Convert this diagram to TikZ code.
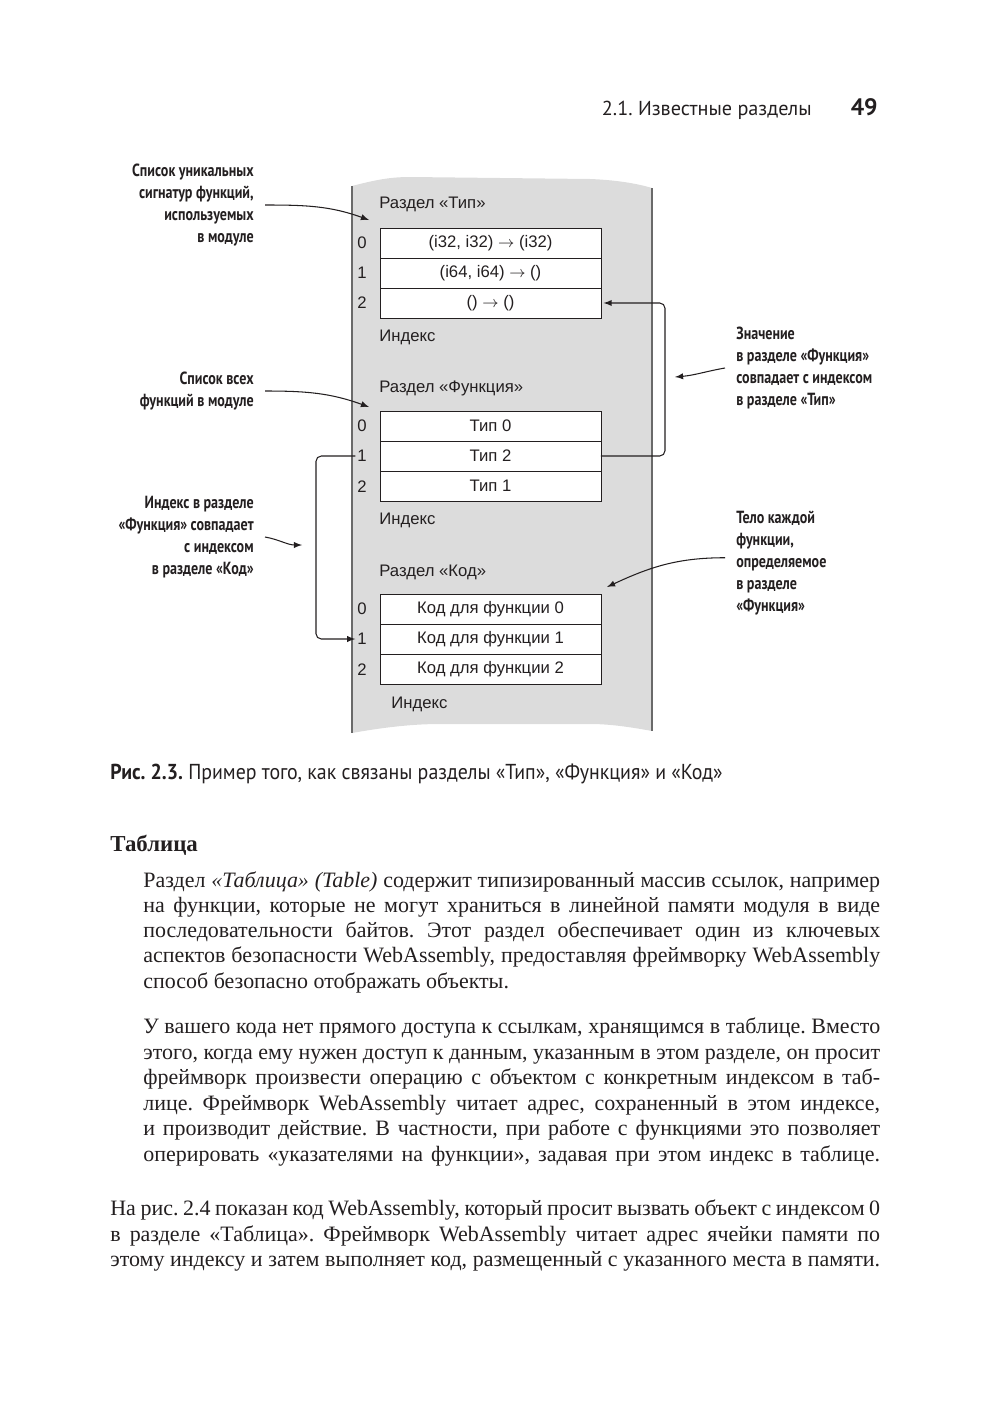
\documentclass[tikz,border=0pt]{standalone}
\usepackage{fontspec}
\setmainfont{Liberation Serif}
\newfontfamily\headfont{PT Sans}
\newfontfamily\boxfont{Liberation Sans}
\newfontfamily\callfont[FakeStretch=0.8]{PT Sans}
\newfontfamily\capfont[FakeStretch=0.92]{PT Sans}
\usetikzlibrary{positioning}
\frenchspacing

\definecolor{bandgray}{HTML}{DCDCDC}
\definecolor{edgegray}{HTML}{6A6A6A}
\definecolor{ink}{HTML}{231F20}

% one justified line of body text
\newcommand{\bodyline}[2]{\makebox[#1][s]{#2}}

\tikzset{
    cell/.style={draw=ink, fill=white, line width=0.5pt, minimum width=4.42cm,
        minimum height=0.6cm, inner sep=0pt, outer sep=0pt, text=ink,
        font=\boxfont\fontsize{9.5}{11}\selectfont},
    idx/.style={inner sep=1pt, text=ink, font=\boxfont\fontsize{9.5}{11}\selectfont},
    seclabel/.style={anchor=west, inner sep=0pt, text=ink,
        font=\boxfont\fontsize{9.5}{11}\selectfont},
    callout/.style={inner xsep=0.22cm, inner ysep=0pt, text=ink,
        font=\callfont\bfseries\fontsize{10}{12.5}\selectfont},
    callarrow/.style={-latex, line width=0.6pt, draw=ink},
    linkline/.style={-latex, line width=0.6pt, draw=ink, rounded corners=3pt},
    body/.style={anchor=base west, inner sep=0pt, text=ink,
        font=\fontsize{12.5}{14}\selectfont}
}

\begin{document}
\begin{tikzpicture}[x=0.02cm, y=-0.02cm]
\useasboundingbox (0,0) rectangle (1000,1413);

% running head
\node[anchor=base east, inner sep=0pt, text=ink, font=\headfont\fontsize{11.5}{13}\selectfont]
    (runhead) at (812,115) {2.1. Известные разделы};
\node[anchor=base east, inner sep=0pt, text=ink, font=\headfont\bfseries\fontsize{13.5}{15}\selectfont]
    (pagenum) at (878,115) {49};

% module band
\fill[bandgray] (352,186) .. controls (375,180) and (390,177) .. (410,177)
    -- (590,179) .. controls (615,180) and (635,183) .. (652,188)
    -- (652,731) .. controls (630,727) and (610,724) .. (590,724)
    -- (440,724) .. controls (410,724) and (380,728) .. (352,733) -- cycle;
\draw[edgegray, line width=0.9pt] (352,186) -- (352,733);
\draw[edgegray, line width=0.9pt] (652,188) -- (652,731);

% type section
\node[seclabel] (secT) at (379,204) {Раздел «Тип»};
\node[cell] (t0) at (490.5,243) {(i32, i32) $\rightarrow$ (i32)};
\node[cell, below=0pt of t0] (t1) {(i64, i64) $\rightarrow$ ()};
\node[cell, below=0pt of t1] (t2) {() $\rightarrow$ ()};
\node[idx] (ti0) at (362,243) {0};
\node[idx] (ti1) at (362,273) {1};
\node[idx] (ti2) at (362,303) {2};
\node[seclabel] (indT) at (379,337) {Индекс};

% function section
\node[seclabel] (secF) at (379,388) {Раздел «Функция»};
\node[cell] (f0) at (490.5,426) {Тип 0};
\node[cell, below=0pt of f0] (f1) {Тип 2};
\node[cell, below=0pt of f1] (f2) {Тип 1};
\node[idx] (fi0) at (362,426) {0};
\node[idx] (fi1) at (362,456) {1};
\node[idx] (fi2) at (362,487) {2};
\node[seclabel] (indF) at (379,520) {Индекс};

% code section
\node[seclabel] (secK) at (379,572) {Раздел «Код»};
\node[cell] (k0) at (490.5,609) {Код для функции 0};
\node[cell, below=0pt of k0] (k1) {Код для функции 1};
\node[cell, below=0pt of k1] (k2) {Код для функции 2};
\node[idx] (ki0) at (362,609) {0};
\node[idx] (ki1) at (362,639) {1};
\node[idx] (ki2) at (362,670) {2};
\node[seclabel] (indK) at (391,704) {Индекс};

% links between sections
\coordinate (rbend) at (665,0);
\coordinate (lbend) at (316,0);
\draw[linkline, shorten >=1.5pt] (f1.east) -- (f1.east -| rbend) |- (t2.east);
\draw[linkline] (fi1.west) -- (fi1.west -| lbend) |- (ki1.west);

% callouts
\node[callout, align=right, anchor=east] (c1) at (265,205)
    {Список уникальных\\сигнатур функций,\\используемых\\в модуле};
\node[callout, align=right, anchor=east] (c2) at (265,391)
    {Список всех\\функций в модуле};
\node[callout, align=right, anchor=east] (c3) at (265,537)
    {Индекс в разделе\\«Функция» совпадает\\с индексом\\в разделе «Код»};
\node[callout, align=left, anchor=west] (c4) at (725,368)
    {Значение\\в разделе «Функция»\\совпадает с индексом\\в разделе «Тип»};
\node[callout, align=left, anchor=west] (c5) at (725,563)
    {Тело каждой\\функции,\\определяемое\\в разделе\\«Функция»};

\coordinate (c1tip) at (369,220);
\coordinate (c2tip) at (369,407);
\coordinate (c3tip) at (302,545);
\coordinate (c4tip) at (675,377);
\coordinate (c5tip) at (607,587);
\draw[callarrow] (c1.east) to[out=0, in=160] (c1tip);
\draw[callarrow] (c2.east) to[out=0, in=160] (c2tip);
\draw[callarrow] (c3.east) to[out=-10, in=180] (c3tip);
\draw[callarrow] (c4.west) to[out=190, in=5] (c4tip);
\draw[callarrow] ([yshift=3pt]c5.west) to[out=180, in=25] (c5tip);

% caption
\node[anchor=base west, inner sep=0pt, text=ink, font=\capfont\fontsize{12.3}{14}\selectfont]
    (figcap) at (110,779) {\textbf{Рис. 2.3.} Пример того, как связаны разделы «Тип», «Функция» и «Код»};

% section heading
\node[anchor=base west, inner sep=0pt, text=ink, font=\bfseries\fontsize{13}{15}\selectfont]
    (tabhead) at (110,851) {Таблица};

% first paragraph
\node[body] (p1a) at (143,887) {\bodyline{14.74cm}{Раздел {\itshape«Таблица» (Table)} содержит типизированный массив ссылок, например}};
\node[body] (p1b) at (143,912) {\bodyline{14.74cm}{на функции, которые не могут храниться в линейной памяти модуля в виде}};
\node[body] (p1c) at (143,937) {\bodyline{14.74cm}{последовательности байтов. Этот раздел обеспечивает один из ключевых}};
\node[body] (p1d) at (143,962) {\bodyline{14.74cm}{аспектов безопасности WebAssembly, предоставляя фреймворку WebAssembly}};
\node[body] (p1e) at (143,988) {способ безопасно отображать объекты.};

% second paragraph
\node[body] (p2a) at (143,1033) {\bodyline{14.74cm}{У вашего кода нет прямого доступа к ссылкам, хранящимся в таблице. Вместо}};
\node[body] (p2b) at (143,1059) {\bodyline{14.74cm}{этого, когда ему нужен доступ к данным, указанным в этом разделе, он просит}};
\node[body] (p2c) at (143,1084) {\bodyline{14.74cm}{фреймворк произвести операцию с объектом с конкретным индексом в таб-}};
\node[body] (p2d) at (143,1110) {\bodyline{14.74cm}{лице. Фреймворк WebAssembly читает адрес, сохраненный в этом индексе,}};
\node[body] (p2e) at (143,1135) {\bodyline{14.74cm}{и производит действие. В частности, при работе с функциями это позволяет}};
\node[body] (p2f) at (143,1161) {\bodyline{14.74cm}{оперировать «указателями на функции», задавая при этом индекс в таблице.}};

% third paragraph
\node[body] (p3a) at (110,1215) {\bodyline{15.4cm}{На рис. 2.4 показан код WebAssembly, который просит вызвать объект с индексом 0}};
\node[body] (p3b) at (110,1241) {\bodyline{15.4cm}{в разделе «Таблица». Фреймворк WebAssembly читает адрес ячейки памяти по}};
\node[body] (p3c) at (110,1266) {\bodyline{15.4cm}{этому индексу и затем выполняет код, размещенный с указанного места в памяти.}};
\end{tikzpicture}
\end{document}
